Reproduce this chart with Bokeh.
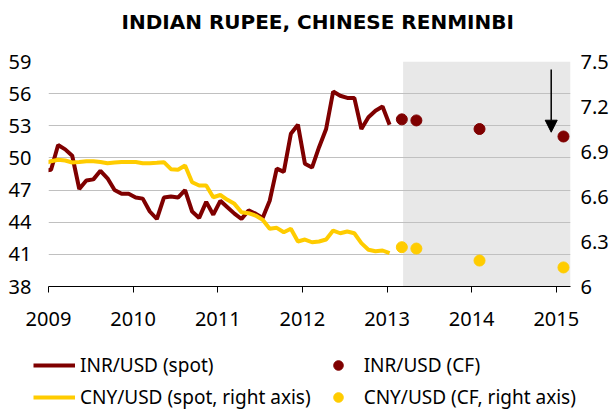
from bokeh.plotting import figure
from bokeh.models import (Range1d, LinearAxis, FixedTicker, Legend, LegendItem,
                          BoxAnnotation, Arrow, NormalHead, Title)
from bokeh.embed import file_html
from bokeh.resources import INLINE

title_text = "INDIAN RUPEE, CHINESE RENMINBI"

# monthly spot series (first month ~ Dec 2008)
spot_first_month = 2008.947
inr_spot = [48.8, 48.9, 51.2, 50.8, 50.2, 47.1, 47.9, 48.0, 48.8, 48.1,
            47.0, 46.65, 46.65, 46.3, 46.2, 45.0, 44.3, 46.3, 46.4, 46.3,
            47.0, 45.0, 44.4, 45.9, 44.7, 46.0, 45.4, 44.8, 44.3, 45.1,
            44.8, 44.4, 46.0, 49.0, 48.7, 52.25, 53.1, 49.45, 49.1, 51.0,
            52.7, 56.2, 55.8, 55.6, 55.6, 52.7, 53.8, 54.4, 54.8, 53.1]
cny_spot = [6.822, 6.835, 6.845, 6.84, 6.827, 6.83, 6.835, 6.835, 6.83, 6.822,
            6.827, 6.83, 6.83, 6.83, 6.822, 6.822, 6.825, 6.829, 6.782, 6.778,
            6.807, 6.695, 6.673, 6.673, 6.595, 6.61, 6.578, 6.551, 6.495, 6.489,
            6.473, 6.445, 6.385, 6.391, 6.362, 6.385, 6.30, 6.313, 6.295, 6.30,
            6.313, 6.373, 6.355, 6.367, 6.355, 6.289, 6.245, 6.235, 6.24, 6.222]

# Consensus forecasts
cf_dates = [2013.175, 2013.347, 2014.093, 2015.085]
inr_cf = [53.6, 53.5, 52.7, 52.0]
cny_cf = [6.262, 6.253, 6.173, 6.127]

year_ticks = [2009, 2010, 2011, 2012, 2013, 2014, 2015]
left_ticks = [38, 41, 44, 47, 50, 53, 56, 59]
right_ticks = [6, 6.3, 6.6, 6.9, 7.2, 7.5]
right_labels = ["6", "6.3", "6.6", "6.9", "7.2", "7.5"]

x_start, x_end = 2009.0, 2015.168
forecast_start = 2013.19
arrow_x, arrow_from, arrow_to = 2014.94, 58.25, 52.4

legend_labels = ["INR/USD (spot)", "INR/USD (CF)",
                 "CNY/USD (spot, right axis)", "CNY/USD (CF, right axis)"]

INR_COLOR = "#7f0000"
CNY_COLOR = "#ffcc00"
FONT = "Noto Sans"

spot_dates = [spot_first_month + k / 12 for k in range(len(inr_spot))]

p = figure(width=611, height=340, output_backend="svg", toolbar_location=None,
           x_range=Range1d(x_start, x_end), y_range=Range1d(left_ticks[0], left_ticks[-1]),
           min_border_left=48, min_border_right=39, min_border_top=61, min_border_bottom=54)
p.extra_y_ranges = {"cny": Range1d(right_ticks[0], right_ticks[-1])}
p.outline_line_color = None
p.background_fill_color = "white"
p.border_fill_color = "white"

# real title, with a spacer title between it and the frame
p.title.text = title_text
p.title.align = "left"
p.title.offset = 73
p.title.standoff = 0
p.title.text_font = "DejaVu Sans"
p.title.text_font_style = "bold"
p.title.text_font_size = "20px"
p.title.text_color = "black"
p.add_layout(Title(text=" ", text_font_size="1px", standoff=25), "above")

shade = BoxAnnotation(left=forecast_start, right=x_end, fill_color="#e8e8e8",
                      fill_alpha=1.0, line_color=None, level="image")
p.add_layout(shade)

# grid
p.xgrid.grid_line_color = None
p.ygrid.ticker = FixedTicker(ticks=left_ticks)
p.ygrid.grid_line_color = "#c0c0c0"
p.ygrid.grid_line_width = 1

# axes
xa = p.xaxis[0]
xa.ticker = FixedTicker(ticks=year_ticks)
xa.axis_line_color = "black"
xa.major_tick_line_color = "black"
xa.major_tick_in = 0
xa.major_tick_out = 6
xa.minor_tick_line_color = None
xa.major_label_text_font = FONT
xa.major_label_text_font_size = "20px"
xa.major_label_text_color = "black"
xa.major_label_standoff = 19

ya = p.yaxis[0]
ya.ticker = FixedTicker(ticks=left_ticks)
ya.axis_line_color = None
ya.major_tick_line_color = None
ya.major_tick_in = 0
ya.major_tick_out = 0
ya.minor_tick_line_color = None
ya.major_label_text_font = FONT
ya.major_label_text_font_size = "20px"
ya.major_label_text_color = "black"
ya.major_label_standoff = 17

ra = LinearAxis(y_range_name="cny", ticker=FixedTicker(ticks=right_ticks))
ra.major_label_overrides = {t: s for t, s in zip(right_ticks, right_labels)}
ra.axis_line_color = None
ra.major_tick_line_color = None
ra.major_tick_in = 0
ra.major_tick_out = 0
ra.minor_tick_line_color = None
ra.major_label_text_font = FONT
ra.major_label_text_font_size = "20px"
ra.major_label_text_color = "black"
ra.major_label_standoff = 10
p.add_layout(ra, "right")

p.line(spot_dates, inr_spot, line_color=INR_COLOR, line_width=4)
p.line(spot_dates, cny_spot, line_color=CNY_COLOR, line_width=4, y_range_name="cny")
p.scatter(cf_dates, inr_cf, size=11, fill_color=INR_COLOR, line_color=INR_COLOR)
p.scatter(cf_dates, cny_cf, size=11, fill_color=CNY_COLOR, line_color=CNY_COLOR,
          y_range_name="cny")

arrow = Arrow(end=NormalHead(size=12, fill_color="black", line_color="black"),
              x_start=arrow_x, y_start=arrow_from, x_end=arrow_x, y_end=arrow_to,
              line_color="black", line_width=1.5)
p.add_layout(arrow)

# legend strip (separate root below the chart, same series and styles,
# its ranges keep the series themselves out of view)
lg = figure(width=611, height=70, output_backend="svg", toolbar_location=None,
            x_range=Range1d(0, 1), y_range=Range1d(0, 1),
            x_axis_location=None, y_axis_location=None,
            min_border_left=0, min_border_right=0, min_border_top=0, min_border_bottom=0)
lg.outline_line_color = None
lg.grid.grid_line_color = None
lg.background_fill_color = "white"
lg.border_fill_color = "white"
l_inr = lg.line(spot_dates, inr_spot, line_color=INR_COLOR, line_width=4)
l_inr_cf = lg.scatter(cf_dates, inr_cf, size=11, fill_color=INR_COLOR, line_color=INR_COLOR)
l_cny = lg.line(spot_dates, cny_spot, line_color=CNY_COLOR, line_width=4)
l_cny_cf = lg.scatter(cf_dates, cny_cf, size=11, fill_color=CNY_COLOR, line_color=CNY_COLOR)

legend = Legend(items=[LegendItem(label=legend_labels[0], renderers=[l_inr]),
                       LegendItem(label=legend_labels[1], renderers=[l_inr_cf]),
                       LegendItem(label=legend_labels[2], renderers=[l_cny]),
                       LegendItem(label=legend_labels[3], renderers=[l_cny_cf])],
                ncols=2, orientation="horizontal", location=(33, 0))
legend.label_text_font = FONT
legend.label_text_font_size = "19px"
legend.label_text_color = "black"
legend.glyph_width = 42
legend.glyph_height = 24
legend.label_standoff = 5
legend.spacing = 6
legend.padding = 0
legend.margin = 0
legend.border_line_color = None
legend.background_fill_alpha = 0
lg.add_layout(legend, "center")

open("out.html", "w").write(file_html([p, lg], INLINE))
